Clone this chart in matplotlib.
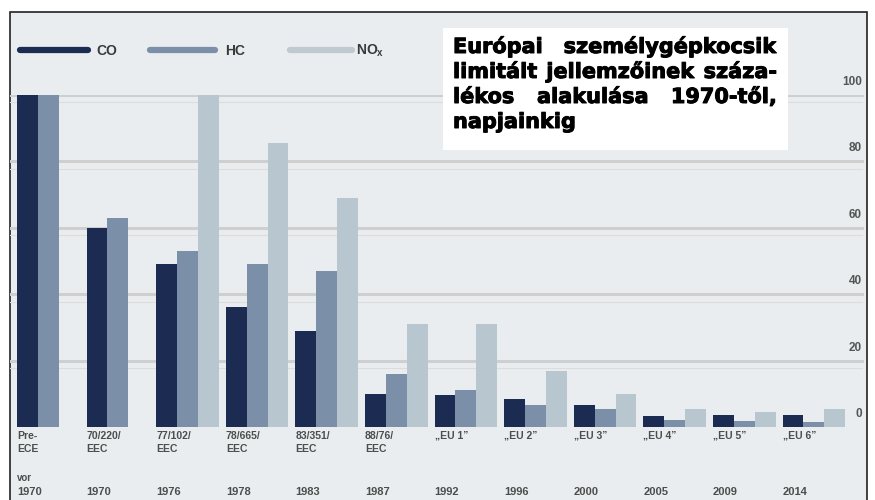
import numpy as np
import matplotlib
matplotlib.use("Agg")
import matplotlib.pyplot as plt
from matplotlib.patches import Rectangle
from matplotlib.lines import Line2D
import matplotlib.transforms as mtransforms
import matplotlib.patheffects as pe

# ---- data ----
categories = ["Pre-\nECE", "70/220/\nEEC", "77/102/\nEEC", "78/665/\nEEC", "83/351/\nEEC",
              "88/76/\nEEC", "„EU 1”", "„EU 2”", "„EU 3”", "„EU 4”", "„EU 5”", "„EU 6”"]
years = ["1970", "1970", "1976", "1978", "1983", "1987", "1992", "1996", "2000", "2005", "2009", "2014"]
co = [100, 60, 49, 36, 29, 10, 9.5, 8.5, 6.5, 3.3, 3.5, 3.5]
hc = [100, 63, 53, 49, 47, 16, 11, 6.5, 5.5, 2.0, 1.8, 1.5]
nox = [np.nan, np.nan, 100, 85.5, 69, 31, 31, 17, 10, 5.5, 4.5, 5.5]
yticks = [0, 20, 40, 60, 80, 100]
title_lines = ["Európai személygépkocsik", "limitált jellemzőinek száza-",
               "lékos alakulása 1970-től,", "napjainkig"]

W, H = 875, 500
BG = "#e9edef"
C_CO, C_HC, C_NOX = "#1c2b52", "#7b8fa8", "#b8c6cf"
plt.rcParams["font.family"] = ["Liberation Sans", "DejaVu Sans"]

fig = plt.figure(figsize=(W / 100, H / 100), dpi=100)
fig.patch.set_facecolor("white")

def fx(px):
    return px / W

def fy(py):
    return 1 - py / H

# frame
fig.patches.append(Rectangle((fx(10), fy(510)), fx(867) - fx(10), fy(12) - fy(510),
                             transform=fig.transFigure, facecolor=BG, edgecolor="#222222",
                             linewidth=1.2, zorder=-5))

# axes: y=0 at px 427, y=100 at px 95; x from px 10 to 867
ax = fig.add_axes([fx(10), fy(427), fx(867) - fx(10), (427 - 95) / H])
ax.set_zorder(1)
ax.set_facecolor("none")
for s in ax.spines.values():
    s.set_visible(False)
ax.set_xticks([])
ax.set_yticks([])

step = 69.6
x0 = -0.45 - 7 / step
ax.set_xlim(x0, x0 + 857 / step)
ax.set_ylim(0, 100)

# gridlines
gx = 852 / 857
for t in yticks[1:]:
    ax.axhline(t, xmin=0, xmax=gx, color="#cfcfcf", lw=2.2, zorder=1)
    ax.axhline(t - 2.2, xmin=0, xmax=gx, color="#dcdcdc", lw=0.8, zorder=1)
for t in yticks:
    ax.annotate(str(t), xy=(gx, t), xycoords=("axes fraction", "data"),
                xytext=(0, 5), textcoords="offset points", ha="right", va="bottom",
                fontsize=8.5, color="#555555", fontweight="bold")

x = np.arange(len(categories))
bw = 0.30
ax.bar(x - bw, co, width=bw, color=C_CO, zorder=3)
ax.bar(x, hc, width=bw, color=C_HC, zorder=3)
ax.bar(x + bw, nox, width=bw, color=C_NOX, zorder=3)

# category labels
tr = mtransforms.blended_transform_factory(ax.transData, fig.transFigure)
for i, (c, yr) in enumerate(zip(categories, years)):
    ax.text(i - 0.45, fy(431), c, transform=tr, ha="left", va="top", fontsize=7.5,
            color="#4d4d4d", fontweight="bold", linespacing=1.35, clip_on=False)
    ax.text(i - 0.45, fy(487), yr, transform=tr, ha="left", va="top", fontsize=8,
            color="#4d4d4d", fontweight="bold", clip_on=False)
ax.text(0 - 0.45, fy(473), "vor", transform=tr, ha="left", va="top", fontsize=7,
        color="#4d4d4d", fontweight="bold", clip_on=False)

# legend
leg = [(20, 88, C_CO, "CO", 96), (150, 215, C_HC, "HC", 225), (290, 352, "#c0c9cf", "NO$_\\mathregular{x}$", 356)]
for a, b, col, lab, tx in leg:
    fig.add_artist(Line2D([fx(a), fx(b)], [fy(50), fy(50)], transform=fig.transFigure,
                          color=col, lw=4.5, solid_capstyle="round"))
    fig.text(fx(tx), fy(51), lab, ha="left", va="center", fontsize=10, color="#3a3a3a",
             fontweight="bold")

# title box
fig.patches.append(Rectangle((fx(443), fy(150)), fx(788) - fx(443), fy(28) - fy(150),
                             transform=fig.transFigure, facecolor="white", edgecolor="none",
                             zorder=5))
fig.canvas.draw()
renderer = fig.canvas.get_renderer()
left, right = 453, 777
baselines = [53, 78, 103, 128]
fs = 15
tfam = ["DejaVu Sans"]
heavy = [pe.withStroke(linewidth=0.7, foreground="black")]
for li, (line, by) in enumerate(zip(title_lines, baselines)):
    words = line.split(" ")
    if li == len(title_lines) - 1:
        fig.text(fx(left), fy(by), line, ha="left", va="baseline", fontsize=fs,
                 fontweight="bold", color="black", zorder=6, family=tfam,
                 path_effects=heavy)
        continue
    arts = [fig.text(0, 0, w, ha="left", va="baseline", fontsize=fs, fontweight="bold",
                     color="black", zorder=6, family=tfam, path_effects=heavy)
            for w in words]
    widths = [a.get_window_extent(renderer).width for a in arts]
    gap = (right - left - sum(widths)) / max(len(words) - 1, 1)
    cur = left
    for a, wdt in zip(arts, widths):
        a.set_position((fx(cur), fy(by)))
        cur += wdt + gap

fig.savefig("out.png", dpi=100, facecolor="white")
